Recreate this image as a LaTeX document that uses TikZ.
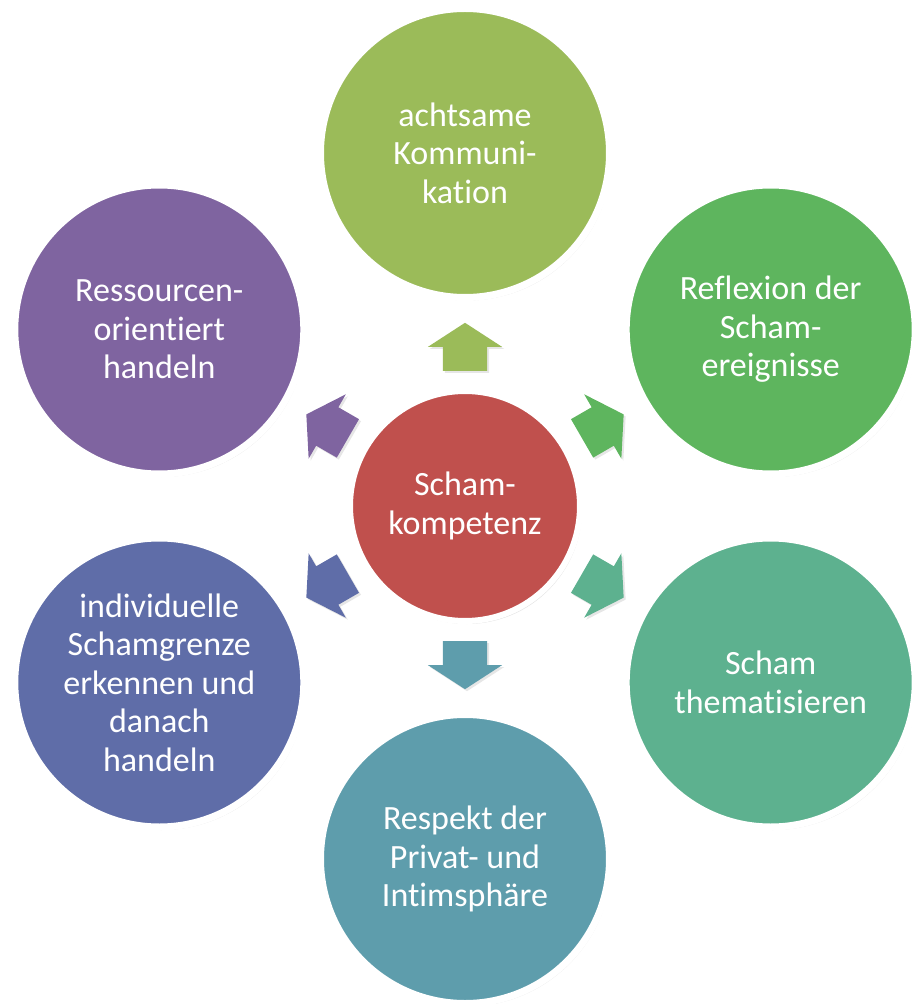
\documentclass[tikz,border=0pt]{standalone}
\usepackage{fontspec}
\setmainfont{Carlito}[Ligatures=NoCommon]
\usepackage{tikz}
\usetikzlibrary{shapes}
\usetikzlibrary{shapes.arrows}
\usetikzlibrary{shadows}
\definecolor{gelbgruen}{HTML}{9BBB59}
\definecolor{gruen}{HTML}{5EB55E}
\definecolor{tuerkis}{HTML}{5DB18F}
\definecolor{petrol}{HTML}{5E9DAC}
\definecolor{blau}{HTML}{5F6DA8}
\definecolor{lila}{HTML}{7F64A0}
\definecolor{rot}{HTML}{C0504D}
\tikzstyle{kreis}  = [draw=white, circle, inner sep=0pt, text=white, align=center, font=\fontsize{34}{38.5}\selectfont, drop shadow={opacity=0.22, shadow xshift=2pt, shadow yshift=-3pt}]
\tikzstyle{aussen} = [kreis, line width=7pt, minimum size=289pt]
\tikzstyle{mitte}  = [kreis, line width=6pt, minimum size=230pt]
\tikzstyle{pfeil}  = [single arrow, single arrow head extend=15pt, single arrow tip angle=114, minimum height=48pt, minimum width=74pt, inner xsep=0pt, inner ysep=22pt, drop shadow={opacity=0.2, shadow xshift=2pt, shadow yshift=-2pt}]

\begin{document}
\begin{tikzpicture}[x=1pt, y=1pt]
	\useasboundingbox (-465,506) rectangle (450,-498);
	\node[mitte, fill=rot]          (kern)       at (0,0)      {Scham-\\kompetenz};
	\node[aussen, fill=gelbgruen]   (kommunik)   at (90:353)   {achtsame\\Kommuni-\\kation};
	\node[aussen, fill=gruen]       (reflexion)  at (30:353)   {Reflexion der\\Scham-\\ereignisse};
	\node[aussen, fill=tuerkis]     (thema)      at (-30:353)  {Scham\\thematisieren};
	\node[aussen, fill=petrol]      (respekt)    at (-90:353)  {Respekt der\\Privat- und\\Intimsphäre};
	\node[aussen, fill=blau]        (grenze)     at (210:353)  {individuelle\\Schamgrenze\\erkennen und\\danach\\handeln};
	\node[aussen, fill=lila]        (ressourcen) at (150:353)  {Ressourcen-\\orientiert\\handeln};
	
	\node[pfeil, fill=gelbgruen, rotate=90]  (p-kommunik)   at (90:152)  {};
	\node[pfeil, fill=gruen, rotate=30]      (p-reflexion)  at (30:152)  {};
	\node[pfeil, fill=tuerkis, rotate=-30]   (p-thema)      at (-30:152) {};
	\node[pfeil, fill=petrol, rotate=-90]    (p-respekt)    at (-90:152) {};
	\node[pfeil, fill=blau, rotate=210]      (p-grenze)     at (210:152) {};
	\node[pfeil, fill=lila, rotate=150]      (p-ressourcen) at (150:152) {};
\end{tikzpicture}
\end{document}
